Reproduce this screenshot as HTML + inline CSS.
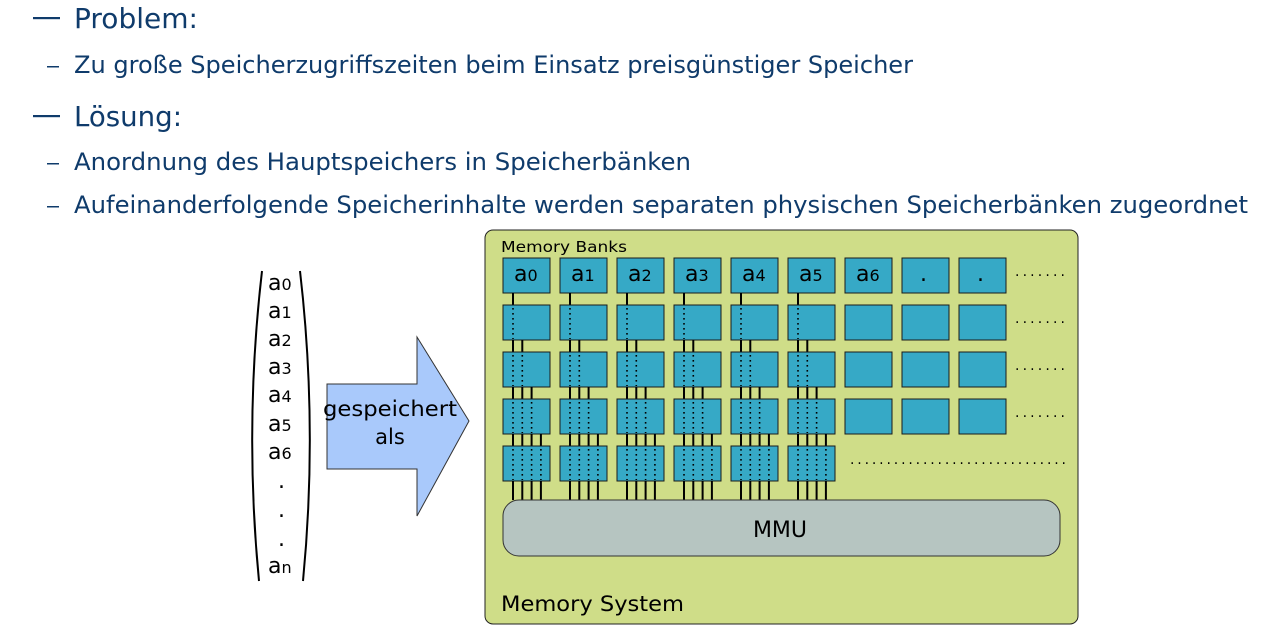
<!DOCTYPE html>
<html><head><meta charset="utf-8"><style>
html,body{margin:0;padding:0;background:#fff;width:1263px;height:625px;overflow:hidden}
svg{display:block}
.t{font-family:"DejaVu Sans","Liberation Sans",sans-serif;fill:#0f3b6b}
.d{font-family:"DejaVu Sans","Liberation Sans",sans-serif;fill:#000}
</style></head><body>
<svg id="s" width="1263" height="625" viewBox="0 0 1263 625" xmlns="http://www.w3.org/2000/svg">
<rect x="33" y="17" width="27" height="2.2" fill="#0f3b6b"/>
<text class="t" x="74" y="28" font-size="28" textLength="124" lengthAdjust="spacingAndGlyphs">Problem:</text>
<rect x="47" y="66" width="12" height="1.5" fill="#0f3b6b"/>
<text class="t" x="74" y="73" font-size="24" textLength="839" lengthAdjust="spacingAndGlyphs">Zu große Speicherzugriffszeiten beim Einsatz preisgünstiger Speicher</text>
<rect x="33" y="115" width="27" height="2.2" fill="#0f3b6b"/>
<text class="t" x="74" y="126" font-size="28" textLength="108" lengthAdjust="spacingAndGlyphs">Lösung:</text>
<rect x="47" y="163" width="12" height="1.5" fill="#0f3b6b"/>
<text class="t" x="74" y="170" font-size="24" textLength="617" lengthAdjust="spacingAndGlyphs">Anordnung des Hauptspeichers in Speicherbänken</text>
<rect x="47" y="206" width="12" height="1.5" fill="#0f3b6b"/>
<text class="t" x="74" y="213" font-size="24" textLength="1174" lengthAdjust="spacingAndGlyphs">Aufeinanderfolgende Speicherinhalte werden separaten physischen Speicherbänken zugeordnet</text>

<path d="M262,271 Q244,426 259,581" fill="none" stroke="#000" stroke-width="2"/>
<path d="M300,271 Q318,426 303,581" fill="none" stroke="#000" stroke-width="2"/>
<g class="d" font-size="22">
<text x="268" y="290">a<tspan font-size="16">0</tspan></text>
<text x="268" y="318">a<tspan font-size="16">1</tspan></text>
<text x="268" y="346">a<tspan font-size="16">2</tspan></text>
<text x="268" y="374">a<tspan font-size="16">3</tspan></text>
<text x="268" y="402">a<tspan font-size="16">4</tspan></text>
<text x="268" y="431">a<tspan font-size="16">5</tspan></text>
<text x="268" y="459">a<tspan font-size="16">6</tspan></text>
<text x="278" y="488">.</text>
<text x="278" y="517">.</text>
<text x="278" y="546">.</text>
<text x="268" y="573">a<tspan font-size="16">n</tspan></text>
</g>
<polygon points="327,384 417,384 417,337 469,421 417,516 417,469 327,469" fill="#a9c9fb" stroke="#333" stroke-width="1"/>
<text class="d" x="390" y="416" font-size="21" text-anchor="middle" textLength="134" lengthAdjust="spacingAndGlyphs">gespeichert</text>
<text class="d" x="390" y="444" font-size="21" text-anchor="middle">als</text>

<rect x="485" y="230" width="593" height="394" rx="8" fill="#cfdd88" stroke="#222" stroke-width="1"/>
<text class="d" x="501" y="252" font-size="15" textLength="126" lengthAdjust="spacingAndGlyphs">Memory Banks</text>
<g id="g"></g>
<rect x="503" y="500" width="557" height="56" rx="16" fill="#b6c5c1" stroke="#333" stroke-width="1"/>
<text class="d" x="780" y="537" font-size="22" text-anchor="middle">MMU</text>
<text class="d" x="501" y="611" font-size="21" textLength="183" lengthAdjust="spacingAndGlyphs">Memory System</text>
<g class="d" font-size="22">
<text x="514" y="281">a<tspan font-size="16">0</tspan></text>
<text x="571" y="281">a<tspan font-size="16">1</tspan></text>
<text x="628" y="281">a<tspan font-size="16">2</tspan></text>
<text x="685" y="281">a<tspan font-size="16">3</tspan></text>
<text x="742" y="281">a<tspan font-size="16">4</tspan></text>
<text x="799" y="281">a<tspan font-size="16">5</tspan></text>
<text x="856" y="281">a<tspan font-size="16">6</tspan></text>
<text x="920" y="281">.</text>
<text x="977" y="281">.</text>
</g>
<g class="d" font-size="14">
<text x="1015" y="276" textLength="50">.......</text>
<text x="1015" y="323" textLength="50">.......</text>
<text x="1015" y="370" textLength="50">.......</text>
<text x="1015" y="417" textLength="50">.......</text>
<text x="850" y="464" textLength="216">..............................</text>
</g>
</svg>
<script>
var g=document.getElementById('g'),h='';
var ys=[258,305,352,399,446];
for(var c=0;c<9;c++){var x=503+57*c;
 for(var r=0;r<5;r++){
  if(c>5&&r>3)continue;
  var y=ys[r];
  h+='<rect x="'+x+'" y="'+y+'" width="47" height="35" fill="#36a9c6" stroke="#1a1a1a" stroke-width="1"/>';
  if(c<=5){
   for(var k=0;k<r;k++){var lx=x+10+9.3*k;
    h+='<line x1="'+lx+'" y1="'+(y+3)+'" x2="'+lx+'" y2="'+(y+34)+'" stroke="#000" stroke-width="1.6" stroke-dasharray="1.6,3.4"/>';}
   var n=r+1; if(r==4)n=4;
   var y2=(r==4)?500:ys[r+1];
   for(var k=0;k<n;k++){var lx=x+10+9.3*k;
    h+='<line x1="'+lx+'" y1="'+(y+35)+'" x2="'+lx+'" y2="'+y2+'" stroke="#000" stroke-width="2"/>';}
  }
 }
}
g.innerHTML=h;
</script>
</body></html>
